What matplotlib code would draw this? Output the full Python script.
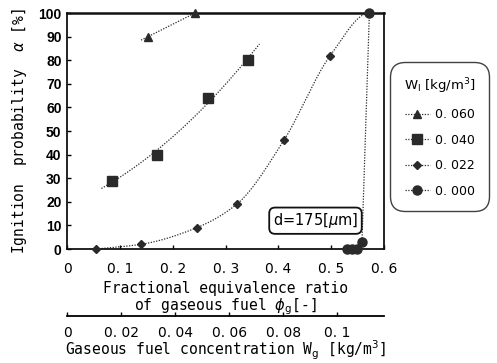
import numpy as np
import matplotlib
matplotlib.use('Agg')
import matplotlib.pyplot as plt
from matplotlib.lines import Line2D

# data
phi_tri = [0.153, 0.242]
alpha_tri = [90, 100]
phi_sq = [0.085, 0.170, 0.267, 0.342]
alpha_sq = [29, 40, 64, 80]
phi_dia = [0.055, 0.140, 0.245, 0.321, 0.410, 0.498, 0.572]
alpha_dia = [0, 2, 9, 19, 46, 82, 100]
phi_cir = [0.530, 0.540, 0.548, 0.558, 0.572]
alpha_cir = [0, 0, 0, 3, 100]

legend_labels = ['0. 060', '0. 040', '0. 022', '0. 000']
xticks = [0, 0.1, 0.2, 0.3, 0.4, 0.5, 0.6]
xtick_labels = ['0', '0. 1', '0. 2', '0. 3', '0. 4', '0. 5', '0. 6']
wg_ticks = [0, 0.02, 0.04, 0.06, 0.08, 0.1]
wg_labels = ['0', '0. 02', '0. 04', '0. 06', '0. 08', '0. 1']
wg_per_phi = 0.1957


def smooth(x, y, n=80):
    # monotone cubic hermite through the points (trend line only)
    x = np.asarray(x, float); y = np.asarray(y, float)
    h = np.diff(x); d = np.diff(y) / h
    m = np.zeros_like(x)
    m[0], m[-1] = d[0], d[-1]
    for i in range(1, len(x) - 1):
        if d[i-1] * d[i] > 0:
            w1 = 2*h[i] + h[i-1]; w2 = h[i] + 2*h[i-1]
            m[i] = (w1 + w2) / (w1/d[i-1] + w2/d[i])
    m[-1] = 0
    xs, ys = [], []
    for i in range(len(h)):
        t = np.linspace(0, 1, n)
        h00 = 2*t**3 - 3*t**2 + 1; h10 = t**3 - 2*t**2 + t
        h01 = -2*t**3 + 3*t**2; h11 = t**3 - t**2
        xs.append(x[i] + t*h[i])
        ys.append(h00*y[i] + h10*h[i]*m[i] + h01*y[i+1] + h11*h[i]*m[i+1])
    return np.concatenate(xs), np.concatenate(ys)


fig = plt.figure(figsize=(4.97, 3.63), dpi=100)
ax = fig.add_axes([0.135, 0.314, 0.638, 0.650])

col = '#2a2a2a'
ls = (0, (1, 1.2))
tick_font = dict(fontsize=10, family='DejaVu Sans')

# trend lines
p = np.polyfit(phi_tri, alpha_tri, 1)
xt = np.linspace(0.140, 0.242, 20)
ax.plot(xt, np.polyval(p, xt), ls=ls, color=col, lw=0.9, clip_on=False)
ax.plot([0.242, 0.572], [100, 100], ls=ls, color=col, lw=0.9, clip_on=False)
p = np.polyfit(phi_sq, alpha_sq, 2)
xs = np.linspace(0.065, 0.364, 50)
ax.plot(xs, np.polyval(p, xs), ls=ls, color=col, lw=0.9)
xd, yd = smooth(phi_dia, alpha_dia)
ax.plot(xd, np.clip(yd, 0, 100), ls=ls, color=col, lw=0.9, clip_on=False)
ax.plot(phi_cir, alpha_cir, ls=ls, color=col, lw=0.9, clip_on=False)

ax.plot(phi_tri, alpha_tri, '^', color=col, ms=6, clip_on=False, zorder=5)
ax.plot(phi_sq, alpha_sq, 's', color=col, ms=6.5, clip_on=False, zorder=5)
ax.plot(phi_dia, alpha_dia, 'D', color=col, ms=4, clip_on=False, zorder=5)
ax.plot(phi_cir, alpha_cir, 'o', color=col, ms=6.5, clip_on=False, zorder=5)

ax.set_xlim(0, 0.583)
ax.set_ylim(0, 100)
ax.set_yticks(range(0, 101, 10))
ax.set_yticklabels([str(v) for v in range(0, 101, 10)], fontsize=10,
                   fontweight='bold', family='Liberation Sans')
ax.set_xticks(xticks)
ax.set_xticklabels(xtick_labels, **tick_font)
ax.tick_params(direction='in', length=3, width=1, pad=9)
ax.tick_params(axis='y', pad=4)
for s in ax.spines.values():
    s.set_linewidth(1.3)
    s.set_color('#111111')
ax.spines['top'].set_linewidth(1.8)

ax.set_xlabel('Fractional equivalence ratio\nof gaseous fuel $\\phi_{\\rm g}$[-]',
              fontsize=10.5, family='DejaVu Sans Mono', labelpad=4,
              linespacing=1.0)
ax.set_ylabel('Ignition  probability  $\\alpha$ [%]', fontsize=10.5,
              family='DejaVu Sans Mono', labelpad=7)

# secondary concentration axis
sec = ax.secondary_xaxis(-0.285, functions=(lambda v: v * wg_per_phi,
                                             lambda v: v / wg_per_phi))
sec.set_xticks(wg_ticks)
sec.set_xticklabels(wg_labels, **tick_font)
sec.tick_params(direction='in', length=3, width=1, pad=7)
sec.spines['bottom'].set_linewidth(1.3)
sec.set_xlabel('Gaseous fuel concentration W$_{\\rm g}$ [kg/m$^3$]',
               fontsize=10.5, family='DejaVu Sans Mono', labelpad=-1)

ax.text(0.47, 12, 'd=175[$\\mu$m]', fontsize=10.5, family='DejaVu Sans',
        ha='center', va='center',
        bbox=dict(boxstyle='round,pad=0.25,rounding_size=0.4', fc='white',
                  ec='#111111', lw=1.3))

# legend
markers = ['^', 's', 'D', 'o']
sizes = [6, 6.5, 4, 6.5]
handles = [Line2D([], [], ls=ls, color=col, lw=0.9, marker=m, ms=s)
           for m, s in zip(markers, sizes)]
leg = fig.legend(handles, legend_labels, loc='center',
                 bbox_to_anchor=(0.885, 0.623), frameon=True,
                 title='W$_{\\rm l}$ [kg/m$^3$]', fontsize=9,
                 title_fontsize=9.5, handlelength=2.0, labelspacing=1.0,
                 borderpad=1.0, fancybox=True, handletextpad=0.4)
leg.get_frame().set_edgecolor('#111111')
leg.get_frame().set_linewidth(1.0)
leg.get_frame().set_boxstyle('round,pad=0.1,rounding_size=1.2')
for t in leg.get_texts():
    t.set_family('DejaVu Sans')

fig.savefig('out.png', dpi=100)
